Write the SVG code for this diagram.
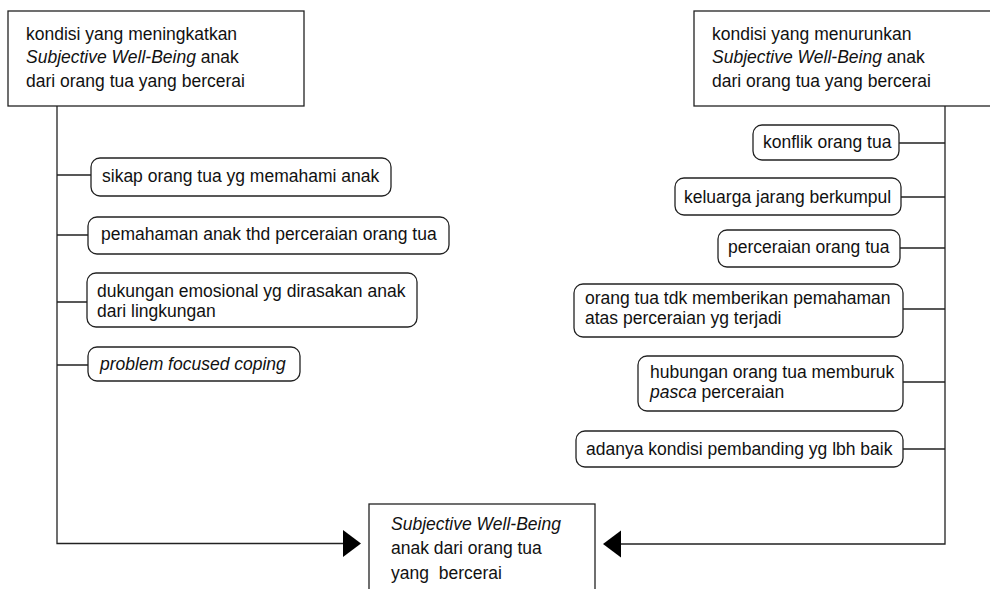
<svg xmlns="http://www.w3.org/2000/svg" width="990" height="589" viewBox="0 0 990 589">
<style>
.bg{fill:#fff}
.box{fill:#fff;stroke:#222;stroke-width:1.3}
.rbox{fill:#fff;stroke:#222;stroke-width:1.3}
.ln{fill:none;stroke:#222;stroke-width:1.3}
text{font-family:"Liberation Sans",Arial,sans-serif;font-size:17.5px;fill:#111}
.it{font-style:italic}
</style>
<rect class="bg" x="0" y="0" width="990" height="589"/>
<g id="connectors">
<path class="ln" d="M57,106 V543.5 H344"/>
<polygon points="343,530 361,543.5 343,557" fill="#000"/>
<path class="ln" d="M945,106 V544 H620"/>
<polygon points="621,530.5 603,544 621,557.5" fill="#000"/>
<path class="ln" d="M57,175 H91 M57,235 H88 M57,302 H87 M57,365 H88"/>
<path class="ln" d="M899,143 H945 M901,197 H945 M900,248 H945 M903,309 H945 M903,382 H945 M903,449 H945"/>
</g>
<g id="left-top">
<rect class="box" x="8" y="11" width="296" height="95"/>
<text x="26" y="40">kondisi yang meningkatkan</text>
<text x="26" y="62.5"><tspan class="it">Subjective Well-Being</tspan> anak</text>
<text x="26" y="87">dari orang tua yang bercerai</text>
</g>
<g id="right-top">
<rect class="box" x="694" y="11" width="300" height="95"/>
<text x="712" y="40">kondisi yang menurunkan</text>
<text x="712" y="62.5"><tspan class="it">Subjective Well-Being</tspan> anak</text>
<text x="712" y="87">dari orang tua yang bercerai</text>
</g>
<g id="bottom">
<rect class="box" x="369" y="504" width="226" height="100"/>
<text class="it" x="391" y="530">Subjective Well-Being</text>
<text x="391" y="554">anak dari orang tua</text>
<text x="391" y="579" xml:space="preserve">yang  bercerai</text>
</g>
<g id="l1"><rect class="rbox" x="91" y="158" width="300" height="38" rx="9"/><text x="102" y="182">sikap orang tua yg memahami anak</text></g>
<g id="l2"><rect class="rbox" x="88" y="217" width="361" height="37" rx="9"/><text x="101" y="240">pemahaman anak thd perceraian orang tua</text></g>
<g id="l3"><rect class="rbox" x="87" y="273" width="330" height="54" rx="9"/><text x="97" y="297">dukungan emosional yg dirasakan anak</text><text x="97" y="317">dari lingkungan</text></g>
<g id="l4"><rect class="rbox" x="88" y="347" width="212" height="34" rx="9"/><text class="it" x="100" y="370">problem focused coping</text></g>
<g id="r1"><rect class="rbox" x="753" y="125" width="146" height="35" rx="9"/><text x="763" y="148">konflik orang tua</text></g>
<g id="r2"><rect class="rbox" x="675" y="178" width="226" height="37" rx="9"/><text x="684" y="203">keluarga jarang berkumpul</text></g>
<g id="r3"><rect class="rbox" x="718" y="230" width="182" height="37" rx="9"/><text x="728" y="253">perceraian orang tua</text></g>
<g id="r4"><rect class="rbox" x="574" y="284" width="329" height="53" rx="9"/><text x="585" y="304">orang tua tdk memberikan pemahaman</text><text x="585" y="324">atas perceraian yg terjadi</text></g>
<g id="r5"><rect class="rbox" x="638" y="356" width="265" height="55" rx="9"/><text x="650" y="378">hubungan orang tua memburuk</text><text x="650" y="398"><tspan class="it">pasca</tspan> perceraian</text></g>
<g id="r6"><rect class="rbox" x="576" y="431" width="327" height="36" rx="9"/><text x="586" y="455">adanya kondisi pembanding yg lbh baik</text></g>
</svg>
